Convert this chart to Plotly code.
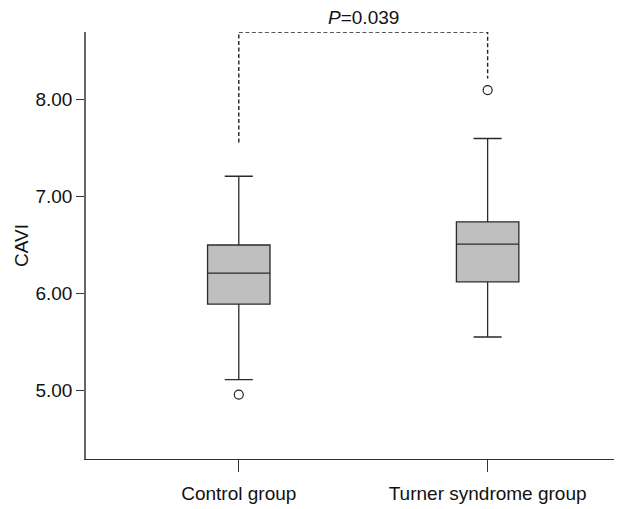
import plotly.graph_objects as go

categories = ["Control group", "Turner syndrome group"]
lower_whisker = [5.11, 5.55]
q1_vals = [5.89, 6.12]
median_vals = [6.21, 6.51]
q3_vals = [6.50, 6.74]
upper_whisker = [7.21, 7.60]
outlier_x = ["Control group", "Turner syndrome group"]
outlier_y = [4.955, 8.10]

y_ticks = [5.0, 6.0, 7.0, 8.0]
bracket_top = 8.70
bracket_left_bottom = 7.56
bracket_right_bottom = 8.22
p_label = "<i>P</i>=0.039"

FONT = "Liberation Sans, Arial, sans-serif"

fig = go.Figure()
for i, cat in enumerate(categories):
    fig.add_trace(go.Box(
        x=[cat], q1=[q1_vals[i]], median=[median_vals[i]], q3=[q3_vals[i]],
        lowerfence=[lower_whisker[i]], upperfence=[upper_whisker[i]],
        fillcolor="#bfbfbf", line=dict(color="#2a2a2a", width=1.3),
        width=0.251, whiskerwidth=0.45, boxpoints=False, showlegend=False,
        hoverinfo="skip",
    ))

fig.add_trace(go.Scatter(
    x=outlier_x, y=outlier_y, mode="markers",
    marker=dict(symbol="circle-open", size=9, color="#222", line=dict(width=1.2)),
    showlegend=False, hoverinfo="skip",
))

fig.add_trace(go.Scatter(
    x=[categories[0], categories[0], categories[1], categories[1]],
    y=[bracket_left_bottom, bracket_top, bracket_top, bracket_right_bottom],
    mode="lines", line=dict(color="#222", width=1.4, dash="4px,2.5px"),
    showlegend=False, hoverinfo="skip", cliponaxis=False,
))

fig.add_annotation(
    x=0.5, y=bracket_top, xref="x", yref="y", text=p_label, showarrow=False,
    yanchor="bottom", yshift=2, font=dict(family=FONT, size=19, color="#111"),
)

fig.update_layout(
    width=622, height=509,
    margin=dict(l=78, r=8, t=24, b=58),
    paper_bgcolor="white", plot_bgcolor="white",
    font=dict(family=FONT, size=19, color="#111"),
)
fig.update_xaxes(
    type="category", categoryorder="array", categoryarray=categories,
    range=[-0.614, 1.540], showline=True, linecolor="#333", linewidth=1.3,
    ticks="outside", ticklen=12, tickcolor="#333", tickwidth=1.2,
    ticklabelstandoff=5,
    showgrid=False, zeroline=False, tickfont=dict(size=19, family=FONT, color="#111"),
)
fig.update_yaxes(
    range=[4.29, 8.70], showline=True, linecolor="#666", linewidth=1.5,
    tickvals=y_ticks, tickformat=".2f", ticks="outside", ticklen=8,
    tickcolor="#333", tickwidth=1.2, showgrid=False, zeroline=False,
    tickfont=dict(size=19, family=FONT, color="#111"),
    title=dict(text="CAVI", font=dict(size=19, family=FONT, color="#111"), standoff=2),
)

fig.write_html("out.html")
